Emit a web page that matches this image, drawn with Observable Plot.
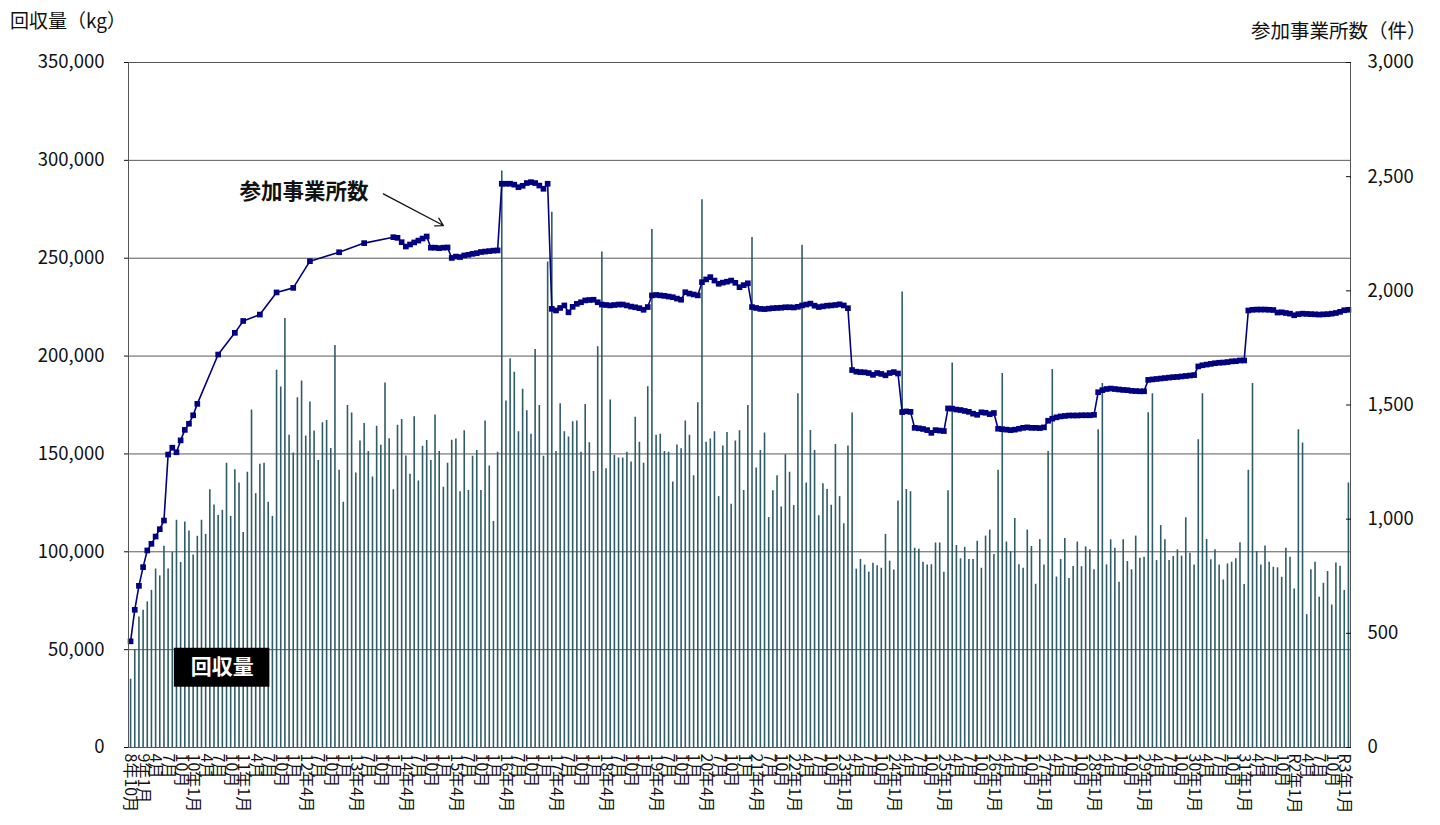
<!DOCTYPE html>
<html><head><meta charset="utf-8">
<script src="https://cdn.jsdelivr.net/npm/d3@7"></script>
<script src="https://cdn.jsdelivr.net/npm/@observablehq/plot@0.6"></script>
<style>
html,body{margin:0;padding:0;background:#fff;}
#chart{position:relative;width:1440px;height:825px;overflow:hidden;font-family:"Noto Sans CJK JP",sans-serif;}
#chart svg{position:absolute;left:0;top:0;}
.ttl{position:absolute;color:#111;white-space:nowrap;line-height:1;z-index:2;}
</style></head><body>
<div id="chart">
<div class="ttl" style="left:10px;top:10px;font-size:19px">回収量（kg）</div>
<div class="ttl" style="left:1251px;top:20px;font-size:19.5px">参加事業所数（件）</div>
</div>
<script>
// 回収量 (kg), monthly from H8年10月
const recoveredKg = [
34900,50000,66700,70100,74400,80300,91200,87700,102800,91200,99600,116100,94500,115200,110600,98400,107900,116100,108900,131700,
123900,118600,121200,145300,118100,141900,135100,109800,140600,172400,129700,144700,145300,125300,118100,192700,184200,219200,159600,150500,
178700,187200,159100,176500,161700,146700,165900,167100,152800,205400,141600,125300,174800,170900,140200,156600,165600,151300,138200,164200,
154400,186200,157800,131700,164600,167600,148900,139600,169000,136200,153900,156900,146700,169900,151200,133000,145300,157000,157600,130700,
161900,131300,148800,151800,131300,166800,143800,115500,150800,294500,177100,198600,191700,161300,183000,172000,160000,203400,174800,148800,
248100,273500,151200,175600,161300,158600,166400,166800,150800,175200,155700,141000,204800,253200,142400,177500,149200,147900,147900,150800,
145900,168700,156000,145300,184300,264700,159600,160000,151200,150800,135600,154500,152700,166800,159600,138900,176100,279900,156000,157600,
161300,128200,154100,160900,124300,156600,161900,131300,174800,260600,142800,151800,160700,117500,131200,138900,122900,149600,140700,123600,
180700,256600,135200,162000,151800,118400,134800,131800,123800,154800,128200,114300,154100,170900,91100,96100,93200,89600,94100,92900,
91600,108900,95200,90700,125900,232700,131800,130700,101800,101300,94600,93200,93400,104500,104500,89600,131200,196400,103200,96400,
102300,96100,96100,105400,91600,108000,111100,98600,141600,191100,105000,100000,117000,93400,91600,111100,102700,83400,106200,93200,
151200,193200,87100,96100,106800,86300,92500,105000,92400,102500,101000,90800,162400,186000,93300,106100,101800,84400,106100,95000,
90800,108000,96700,97200,171100,180800,95500,113400,106100,95500,97600,101000,97800,117400,99300,93300,157300,180800,106300,95900,
101000,93300,85600,93800,94700,96400,104600,83300,141600,186000,100100,93300,102900,94700,92100,91800,87000,101800,97200,81000,
162400,155600,67900,90800,94700,76800,83900,89900,72800,94300,92600,80200,135100
];
// 参加事業所数 (件), same months; null = no point
const participants = [
465,603,708,790,863,892,924,956,994,1283,1313,1293,1345,1391,1418,1455,1505,null,null,null,
null,1721,null,null,null,1816,null,1868,null,null,null,1896,null,null,null,1993,null,null,null,2013,
null,null,null,2130,null,null,null,null,null,null,2169,null,null,null,null,null,2209,null,null,null,
null,null,null,2235,2232,2213,2194,2203,2212,2220,2229,2238,2189,2189,2187,2189,2190,2144,2150,2148,
2155,2158,2162,2165,2170,2172,2174,2176,2177,2469,2469,2469,2465,2454,2460,2472,2476,2472,2461,2447,
2469,1921,1914,1925,1936,1906,1930,1943,1950,1958,1960,1961,1950,1940,1938,1936,1938,1940,1940,1936,
1931,1928,1924,1917,1929,1980,1982,1980,1978,1975,1972,1966,1961,1994,1988,1984,1980,2038,2050,2060,
2045,2031,2036,2040,2045,2035,2016,2025,2033,1929,1925,1921,1920,1922,1924,1925,1926,1928,1928,1927,
1930,1936,1940,1944,1935,1929,1932,1935,1936,1938,1941,1936,1924,1653,1646,1644,1643,1640,1632,1640,
1636,1630,1640,1644,1638,1469,1472,1470,1400,1398,1395,1390,1378,1390,1388,1386,1485,1484,1480,1478,
1474,1470,1462,1457,1468,1466,1460,1465,1396,1394,1392,1390,1392,1396,1400,1402,1400,1400,1399,1402,
1431,1440,1446,1450,1452,1454,1454,1454,1455,1455,1455,1457,1556,1565,1570,1572,1570,1568,1566,1565,
1562,1561,1560,1560,1610,1612,1614,1616,1618,1620,1622,1623,1625,1627,1629,1631,1669,1674,1677,1680,
1683,1685,1686,1688,1691,1692,1695,1695,1914,1917,1918,1918,1918,1917,1916,1905,1906,1903,1900,1893,
1898,1900,1899,1898,1897,1896,1897,1898,1900,1903,1908,1915,1917
];
// x tick labels, every 3 months from index 0
const tickLabels = [
"8年10月",
"9年1月","4月","7月","10月",
"10年1月","4月","7月","10月",
"11年1月","4月","7月","10月",
"1月","12年4月","7月","10月",
"1月","13年4月","7月","10月",
"1月","14年4月","7月","10月",
"1月","15年4月","7月","10月",
"1月","16年4月","7月","10月",
"1月","17年4月","7月","10月",
"1月","18年4月","7月","10月",
"1月","19年4月","7月","10月",
"1月","20年4月","7月","10月",
"1月","21年4月","7月","10月",
"22年1月","4月","7月","10月",
"23年1月","4月","7月","10月",
"24年1月","4月","7月","10月",
"25年1月","4月","7月","10月",
"26年1月","4月","7月","10月",
"27年1月","4月","7月","10月",
"28年1月","4月","7月","10月",
"29年1月","4月","7月","10月",
"30年1月","4月","7月","10月",
"31年1月","4月","7月","10月",
"R2年1月","4月","7月","10月",
"R3年1月"
];
const leftTicks = [0,50000,100000,150000,200000,250000,300000,350000];
const rightTicks = [0,500,1000,1500,2000,2500,3000];
// annotations (placed in data units)
const lineNote = [{label:"参加事業所数", x:41.6, y:283600}];
const lineArrow = [{x1:60.6, y1:282900, x2:75.0, y2:266700}];
const barNote = [{label:"回収量", x1:10.5, x2:33.4, y1:30800, y2:50700}];

const SCALE = 350000 / 3000;
const barData = recoveredKg.map((v, i) => ({i, v}));
const lineData = participants.map((c, i) => ({i, c})).filter(d => d.c != null);
const tickIdx = tickLabels.map((_, k) => k * 3);
const fmt = d3.format(",");

const chart = Plot.plot({
  width: 1440, height: 825,
  marginTop: 62, marginBottom: 78, marginLeft: 128, marginRight: 90,
  style: {fontFamily: '"Noto Sans CJK JP", sans-serif', fontSize: "16px", color: "#111", background: "transparent"},
  x: {type: "linear", domain: [-0.5, recoveredKg.length - 0.5]},
  y: {domain: [0, 350000]},
  marks: [
    Plot.ruleY(leftTicks.filter(v => v > 0 && v < 350000), {stroke: "#5a5a5a", strokeWidth: 1}),
    Plot.ruleX(barData, {x: "i", y1: 0, y2: "v", stroke: "#2f5d67", strokeWidth: 1.6}),
    Plot.line(lineData, {x: "i", y: d => d.c * SCALE, stroke: "#000080", strokeWidth: 1.6}),
    Plot.dot(lineData, {x: "i", y: d => d.c * SCALE, symbol: "square", r: 3.2, fill: "#000080", stroke: "none"}),
    Plot.frame({stroke: "#555"}),
    Plot.rect(barNote, {x1: "x1", x2: "x2", y1: "y1", y2: "y2", fill: "#000"}),
    Plot.text(barNote, {x: d => (d.x1 + d.x2) / 2, y: d => (d.y1 + d.y2) / 2, text: "label", fill: "#fff", fontWeight: "bold", fontSize: 21}),
    Plot.text(lineNote, {x: "x", y: "y", text: "label", fill: "#111", fontWeight: "bold", fontSize: 21.5}),
    Plot.arrow(lineArrow, {x1: "x1", y1: "y1", x2: "x2", y2: "y2", stroke: "#111", strokeWidth: 1.3, headLength: 10}),
    Plot.axisY(leftTicks, {anchor: "left", tickFormat: fmt, tickSize: 4, tickPadding: 20, label: null, fontSize: 18.5}),
    Plot.axisY(rightTicks.map(v => v * SCALE), {anchor: "right", tickFormat: d => fmt(Math.round(d / SCALE)), tickSize: -5, tickPadding: 22, label: null, fontSize: 18.5}),
    Plot.axisX(tickIdx, {tickFormat: d => tickLabels[d / 3], tickRotate: 90, tickSize: 0, tickPadding: 6, label: null, fontSize: 16})
  ]
});
document.getElementById("chart").appendChild(chart);
</script>
</body></html>
